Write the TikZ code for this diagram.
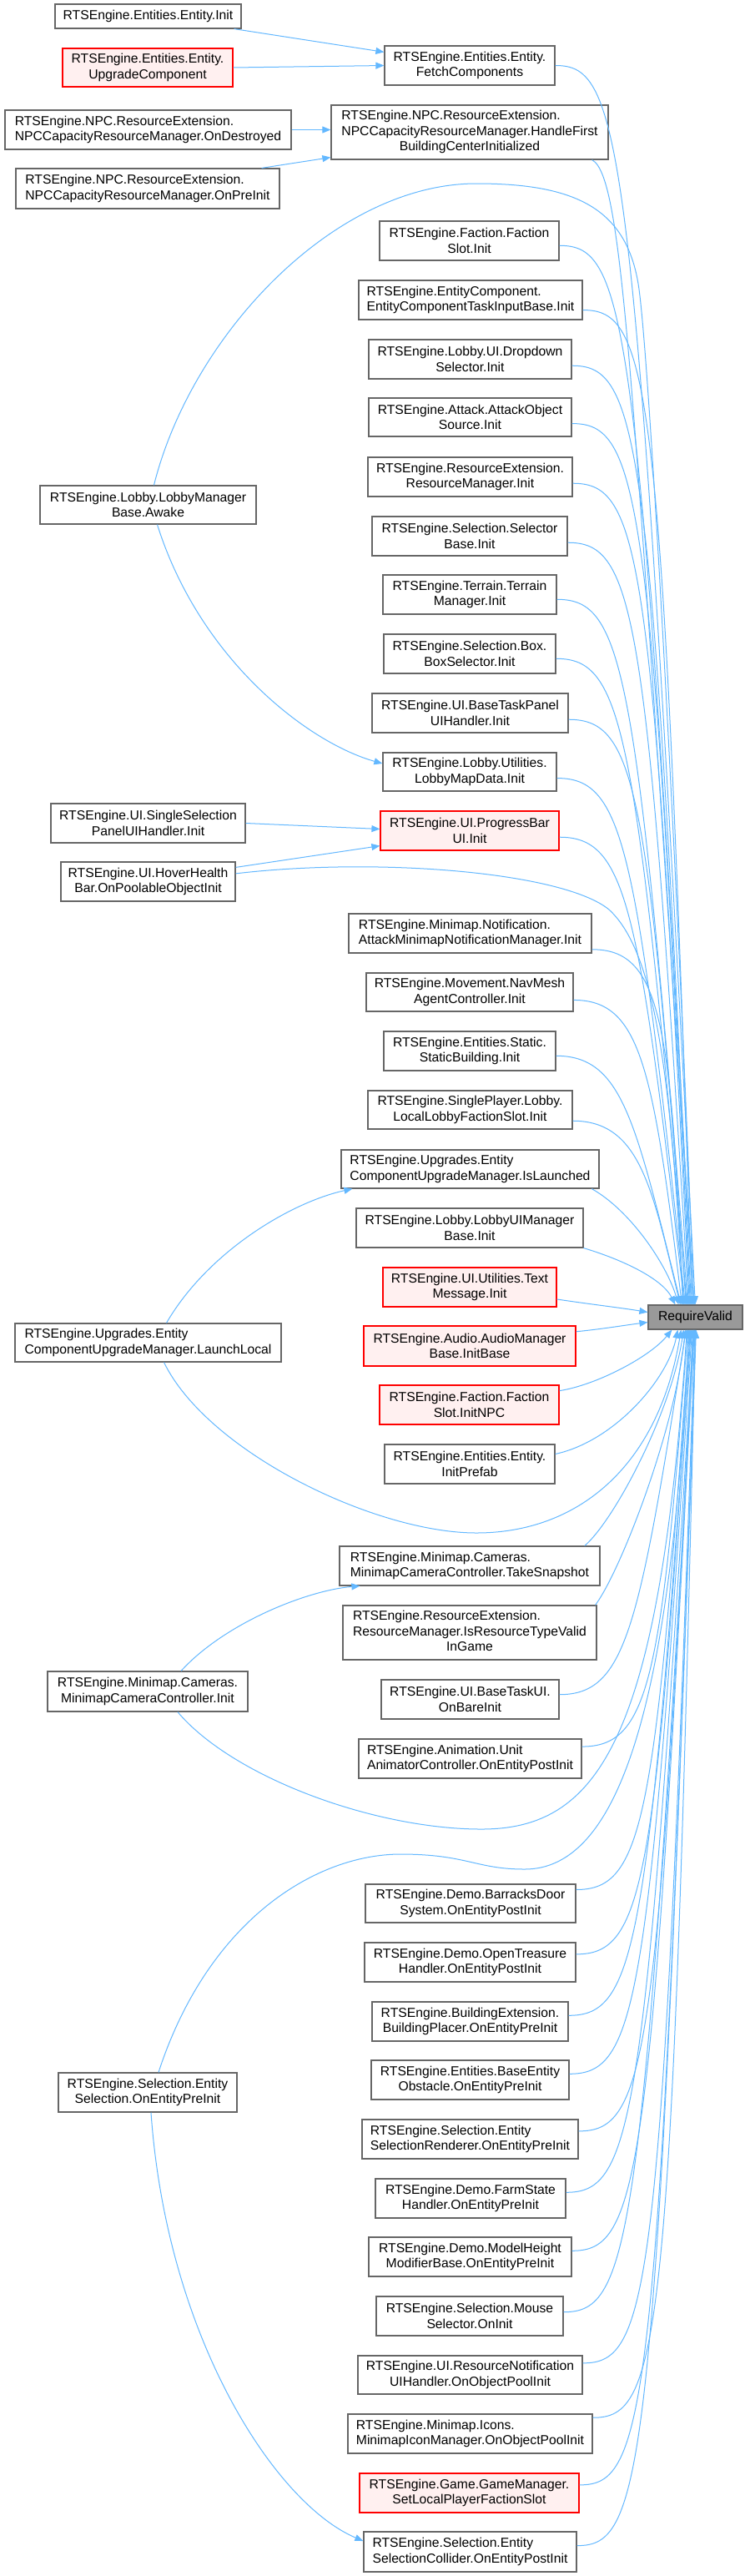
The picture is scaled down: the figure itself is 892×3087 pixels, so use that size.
\documentclass[tikz,border=0pt]{standalone}
\usepackage{fontspec}
\setmainfont{Liberation Sans}
\usetikzlibrary{arrows.meta,calc}
\definecolor{edgec}{HTML}{63B8FF}
\definecolor{bordc}{HTML}{666666}
\definecolor{redfill}{HTML}{FFF0F0}
\definecolor{redbord}{HTML}{FF0000}
\definecolor{rvfill}{HTML}{999999}
\tikzset{
  nbox/.style={draw=bordc, fill=white, line width=1.2pt, inner sep=0pt, align=center, text=black, font=\fontsize{15.7}{18.3}\selectfont},
  lbox/.style={nbox, align=left},
  rbox/.style={nbox, draw=redbord, fill=redfill},
  gbox/.style={nbox, fill=rvfill},
  calledge/.style={draw=edgec, line width=1pt, -{Triangle[length=10pt,width=8pt]}},
}
\newcommand\nodebox[7]{\node[#2, minimum width={(#5-#3)*1pt}, minimum height={(#6-#4)*1pt}] (#1) at ({(#3+#5)/2},{(#4+#6)/2}) {#7};}
\newcommand\topedge[3]{\draw[calledge] ($(#1.north east)!#2!(#1.south east)$) .. controls +(80,0) and ($(#1.north east)!#2!(#1.south east)+(95,80)$) .. ($(RV.north west)+(#3,0)$);}
\newcommand\botedge[3]{\draw[calledge] ($(#1.north east)!#2!(#1.south east)$) .. controls +(80,0) and ($(#1.north east)!#2!(#1.south east)+(95,-80)$) .. ($(RV.south west)+(#3,0)$);}
% two left-aligned lines followed by one centred line
\newcommand\mixthree[3]{\begin{tabular}{@{}c@{}}\begin{tabular}[b]{@{}l@{}}#1\\#2\end{tabular}\\#3\end{tabular}}
\begin{document}
\begin{tikzpicture}[x=1pt,y=-1pt]
\useasboundingbox (0,0) rectangle (892,3087);
\fill[white] (0,0) rectangle (892,3087);
% left column
\nodebox{EInit}{nbox}{66}{5}{289}{34}{RTSEngine.Entities.Entity.Init}
\nodebox{Upgrade}{rbox}{75}{58}{279}{104}{RTSEngine.Entities.Entity.\\UpgradeComponent}
\nodebox{OnDestroyed}{lbox}{6}{132}{349}{179}{RTSEngine.NPC.ResourceExtension.\\NPCCapacityResourceManager.OnDestroyed}
\nodebox{OnPreInit}{lbox}{19}{202}{335}{250}{RTSEngine.NPC.ResourceExtension.\\NPCCapacityResourceManager.OnPreInit}
\nodebox{Awake}{nbox}{48}{582}{307}{628}{RTSEngine.Lobby.LobbyManager\\Base.Awake}
\nodebox{SingleSel}{nbox}{61}{963}{294}{1010}{RTSEngine.UI.SingleSelection\\PanelUIHandler.Init}
\nodebox{Hover}{nbox}{73}{1033}{282}{1080}{RTSEngine.UI.HoverHealth\\Bar.OnPoolableObjectInit}
\nodebox{LaunchLocal}{lbox}{18}{1586}{337}{1632}{RTSEngine.Upgrades.Entity\\ComponentUpgradeManager.LaunchLocal}
\nodebox{MMCam}{nbox}{57}{2003}{297}{2051}{RTSEngine.Minimap.Cameras.\\MinimapCameraController.Init}
\nodebox{EntSel}{nbox}{70}{2484}{284}{2531}{RTSEngine.Selection.Entity\\Selection.OnEntityPreInit}
% middle column
\nodebox{Fetch}{nbox}{461}{55}{665}{102}{RTSEngine.Entities.Entity.\\FetchComponents}
\nodebox{HandleFirst}{nbox}{397}{126}{729}{191}{\mixthree{RTSEngine.NPC.ResourceExtension.}{NPCCapacityResourceManager.HandleFirst}{BuildingCenterInitialized}}
\nodebox{FSInit}{nbox}{455}{265}{670}{312}{RTSEngine.Faction.Faction\\Slot.Init}
\nodebox{ECTask}{lbox}{430}{336}{698}{383}{RTSEngine.EntityComponent.\\EntityComponentTaskInputBase.Init}
\nodebox{Dropdown}{nbox}{442}{407}{685}{454}{RTSEngine.Lobby.UI.Dropdown\\Selector.Init}
\nodebox{AttackObj}{nbox}{442}{477}{685}{523}{RTSEngine.Attack.AttackObject\\Source.Init}
\nodebox{ResMgr}{nbox}{441}{548}{686}{595}{RTSEngine.ResourceExtension.\\ResourceManager.Init}
\nodebox{SelBase}{nbox}{446}{619}{680}{666}{RTSEngine.Selection.Selector\\Base.Init}
\nodebox{Terrain}{nbox}{459}{689}{667}{736}{RTSEngine.Terrain.Terrain\\Manager.Init}
\nodebox{BoxSel}{nbox}{460}{760}{666}{807}{RTSEngine.Selection.Box.\\BoxSelector.Init}
\nodebox{BaseTaskPanel}{nbox}{446}{831}{681}{878}{RTSEngine.UI.BaseTaskPanel\\UIHandler.Init}
\nodebox{LobbyMap}{nbox}{459}{902}{667}{948}{RTSEngine.Lobby.Utilities.\\LobbyMapData.Init}
\nodebox{Progress}{rbox}{456}{972}{670}{1019}{RTSEngine.UI.ProgressBar\\UI.Init}
\nodebox{AttackMini}{lbox}{418}{1095}{709}{1142}{RTSEngine.Minimap.Notification.\\AttackMinimapNotificationManager.Init}
\nodebox{NavMesh}{nbox}{439}{1166}{687}{1212}{RTSEngine.Movement.NavMesh\\AgentController.Init}
\nodebox{StaticB}{nbox}{460}{1236}{666}{1283}{RTSEngine.Entities.Static.\\StaticBuilding.Init}
\nodebox{LocalLobby}{nbox}{441}{1307}{686}{1353}{RTSEngine.SinglePlayer.Lobby.\\LocalLobbyFactionSlot.Init}
\nodebox{IsLaunched}{lbox}{409}{1378}{718}{1424}{RTSEngine.Upgrades.Entity\\ComponentUpgradeManager.IsLaunched}
\nodebox{LobbyUI}{nbox}{427}{1448}{699}{1495}{RTSEngine.Lobby.LobbyUIManager\\Base.Init}
\nodebox{TextMsg}{rbox}{459}{1519}{667}{1566}{RTSEngine.UI.Utilities.Text\\Message.Init}
\nodebox{Audio}{rbox}{436}{1589}{690}{1637}{RTSEngine.Audio.AudioManager\\Base.InitBase}
\nodebox{InitNPC}{rbox}{455}{1660}{670}{1707}{RTSEngine.Faction.Faction\\Slot.InitNPC}
\nodebox{InitPrefab}{nbox}{461}{1731}{665}{1778}{RTSEngine.Entities.Entity.\\InitPrefab}
\nodebox{Snapshot}{lbox}{407}{1853}{719}{1900}{RTSEngine.Minimap.Cameras.\\MinimapCameraController.TakeSnapshot}
\nodebox{ResValid}{nbox}{411}{1924}{715}{1989}{\mixthree{RTSEngine.ResourceExtension.}{ResourceManager.IsResourceTypeValid}{InGame}}
\nodebox{BareInit}{nbox}{457}{2013}{670}{2060}{RTSEngine.UI.BaseTaskUI.\\OnBareInit}
\nodebox{Animator}{lbox}{430}{2084}{697}{2131}{RTSEngine.Animation.Unit\\AnimatorController.OnEntityPostInit}
\nodebox{Barracks}{nbox}{438}{2258}{690}{2304}{RTSEngine.Demo.BarracksDoor\\System.OnEntityPostInit}
\nodebox{Treasure}{nbox}{437}{2328}{690}{2375}{RTSEngine.Demo.OpenTreasure\\Handler.OnEntityPostInit}
\nodebox{BPlacer}{nbox}{446}{2399}{681}{2446}{RTSEngine.BuildingExtension.\\BuildingPlacer.OnEntityPreInit}
\nodebox{Obstacle}{nbox}{445}{2469}{682}{2516}{RTSEngine.Entities.BaseEntity\\Obstacle.OnEntityPreInit}
\nodebox{SelRenderer}{lbox}{434}{2540}{693}{2587}{RTSEngine.Selection.Entity\\SelectionRenderer.OnEntityPreInit}
\nodebox{Farm}{nbox}{450}{2611}{678}{2658}{RTSEngine.Demo.FarmState\\Handler.OnEntityPreInit}
\nodebox{ModelH}{nbox}{442}{2681}{685}{2728}{RTSEngine.Demo.ModelHeight\\ModifierBase.OnEntityPreInit}
\nodebox{Mouse}{nbox}{451}{2752}{675}{2799}{RTSEngine.Selection.Mouse\\Selector.OnInit}
\nodebox{ResNotif}{nbox}{429}{2823}{698}{2869}{RTSEngine.UI.ResourceNotification\\UIHandler.OnObjectPoolInit}
\nodebox{MMIcon}{lbox}{417}{2893}{710}{2940}{RTSEngine.Minimap.Icons.\\MinimapIconManager.OnObjectPoolInit}
\nodebox{GameMgr}{rbox}{431}{2964}{694}{3011}{RTSEngine.Game.GameManager.\\SetLocalPlayerFactionSlot}
\nodebox{SelCollider}{lbox}{436}{3034}{691}{3082}{RTSEngine.Selection.Entity\\SelectionCollider.OnEntityPostInit}
% target
\nodebox{RV}{gbox}{777}{1564}{890}{1593}{RequireValid}
% left -> middle edges
\draw[calledge] ($(EInit.south east)+(-9,0)$) -- ($(Fetch.north west)+(0,8)$);
\draw[calledge] (Upgrade.east) -- (Fetch.west);
\draw[calledge] (OnDestroyed.east) -- (OnDestroyed.east -| HandleFirst.west);
\draw[calledge] ($(OnPreInit.north east)+(-22,0)$) -- ($(HandleFirst.south west)+(0,-3)$);
\draw[calledge] ($(Awake.south)+(11,0)$) .. controls +(51,162) and +(-89,-25) .. ($(LobbyMap.west)+(0,-10)$);
\draw[calledge] (SingleSel.east) -- ($(Progress.west)+(0,-2)$);
\draw[calledge] ($(Hover.north east)+(0,7)$) -- ($(Progress.south west)+(0,-6)$);
\draw[calledge] ($(LaunchLocal.north)+(22,0)$) .. controls +(50,-86) and +(-73,16) .. ($(IsLaunched.south west)+(14,0)$);
\draw[calledge] ($(MMCam.north)+(40,0)$) .. controls +(53,-58) and +(-62,5) .. ($(Snapshot.south west)+(25,0)$);
\draw[calledge] ($(EntSel.south)+(4,0)$) .. controls +(19,269) and +(-106,-45) .. ($(SelCollider.west)+(0,-13)$);
% edges into RequireValid from above
\topedge{Fetch}{0.5}{57}
\draw[calledge] ($(HandleFirst.south west)!0.94!(HandleFirst.south east)$) .. controls +(40,20) and +(-73,-1064) .. ($(RV.north west)+(56,0)$);
\draw[calledge] ($(Awake.north)+(7,0)$) .. controls +(45,-180) and +(-170,0) .. (571,220) .. controls +(119,0) and +(-15,-90) .. (765,340) .. controls +(15,90) and +(-12,-360) .. ($(RV.north west)+(55,0)$);
\topedge{FSInit}{0.62}{54}
\topedge{ECTask}{0.75}{53}
\topedge{Dropdown}{0.66}{52}
\topedge{AttackObj}{0.66}{51}
\topedge{ResMgr}{0.66}{50}
\topedge{SelBase}{0.66}{49}
\topedge{Terrain}{0.62}{48}
\topedge{BoxSel}{0.62}{47}
\topedge{BaseTaskPanel}{0.66}{46}
\topedge{LobbyMap}{0.66}{45}
\topedge{Progress}{0.66}{44}
\draw[calledge] ($(Hover.north east)!0.3!(Hover.south east)$) .. controls +(170,-20) and +(-55,-45) .. (730,1090) .. controls +(60,55) and +(-15,-250) .. ($(RV.north west)+(43,0)$);
\topedge{AttackMini}{0.9}{42}
\topedge{NavMesh}{0.7}{41}
\topedge{StaticB}{0.62}{40}
\topedge{LocalLobby}{0.78}{39}
\draw[calledge] ($(IsLaunched.south west)!0.97!(IsLaunched.south east)$) .. controls +(45,25) and +(-15,-50) .. ($(RV.north west)+(37,0)$);
\draw[calledge] (LobbyUI.south east) .. controls +(50,15) and +(-15,-30) .. ($(RV.north west)+(33,0)$);
\draw[calledge] ($(TextMsg.north east)!0.8!(TextMsg.south east)$) .. controls +(40,6) and +(-30,-5) .. ($(RV.west)+(0,-6)$);
\draw[calledge] ($(Audio.north east)!0.15!(Audio.south east)$) .. controls +(30,-3) and +(-30,4) .. ($(RV.west)+(0,6)$);
% edges into RequireValid from below
\draw[calledge] ($(InitNPC.north east)!0.15!(InitNPC.south east)$) .. controls +(45,-7) and +(-26,32) .. ($(RV.south west)+(29,0)$);
\draw[calledge] ($(InitPrefab.north east)!0.25!(InitPrefab.south east)$) .. controls +(70,-15) and +(-12,60) .. ($(RV.south west)+(36,0)$);
\draw[calledge] ($(LaunchLocal.south)+(19,0)$) .. controls +(53,108) and +(-121,0) .. (571,1837) .. controls +(119,0) and +(-28,167) .. ($(RV.south west)+(40,0)$);
\draw[calledge] ($(Snapshot.north west)!0.94!(Snapshot.north east)$) .. controls +(35,-30) and +(-15,100) .. ($(RV.south west)+(43,0)$);
\draw[calledge] ($(ResValid.north east)+(-2,0)$) .. controls +(30,-40) and +(-12,120) .. ($(RV.south west)+(45,0)$);
\botedge{BareInit}{0.38}{46}
\draw[calledge] ($(MMCam.south)+(36,0)$) .. controls +(67,79) and +(-127,0) .. (577,2192) .. controls +(143,0) and +(-33,487) .. ($(RV.south west)+(47,0)$);
\botedge{Animator}{0.2}{48}
\draw[calledge] ($(EntSel.north)+(13,0)$) .. controls +(60,-184) and +(-100,0) .. (480,2222) .. controls +(80,0) and +(-59,0) .. (629,2240) .. controls +(111,0) and +(-21,457) .. ($(RV.south west)+(49,0)$);
\botedge{Barracks}{0.15}{50}
\botedge{Treasure}{0.3}{51}
\botedge{BPlacer}{0.35}{52}
\botedge{Obstacle}{0.35}{53}
\botedge{SelRenderer}{0.3}{54}
\botedge{Farm}{0.35}{55}
\botedge{ModelH}{0.35}{55.5}
\botedge{Mouse}{0.4}{56}
\botedge{ResNotif}{0.2}{56.5}
\botedge{MMIcon}{0.1}{57}
\botedge{GameMgr}{0.3}{57.5}
\botedge{SelCollider}{0.35}{58}
\end{tikzpicture}
\end{document}
